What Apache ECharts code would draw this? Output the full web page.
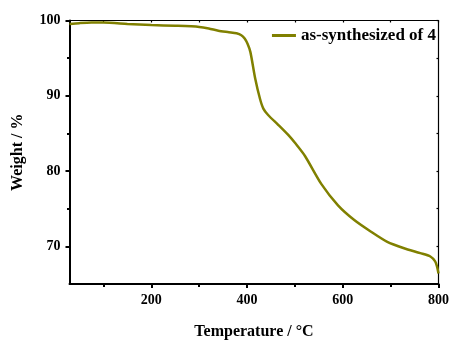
<!DOCTYPE html>
<html>
<head>
<meta charset="utf-8">
<script src="https://cdn.jsdelivr.net/npm/echarts@6/dist/echarts.min.js"></script>
<style>
html,body{margin:0;padding:0;background:#fff;}
#c{width:452px;height:345px;}
</style>
</head>
<body>
<div id="c"></div>
<script>
var seriesName = 'as-synthesized of 4';
var temperature = [29, 50, 75, 100, 150, 200, 250, 300, 320, 340, 362, 378, 388, 395, 401, 407, 417, 427, 434, 444, 465, 486, 500, 521, 555, 590, 624, 659, 693, 728, 762, 783, 793, 797, 800];
var weight = [99.55, 99.65, 99.72, 99.72, 99.55, 99.4, 99.3, 99.15, 98.95, 98.65, 98.45, 98.3, 98.05, 97.6, 96.9, 95.8, 92.3, 89.6, 88.3, 87.45, 86.15, 84.8, 83.75, 82.0, 78.3, 75.45, 73.5, 71.95, 70.6, 69.75, 69.1, 68.65, 68.0, 67.3, 66.4];
var xMajor = [200, 400, 600, 800];
var xMinor = [100, 300, 500, 700];
var yMajor = [70, 80, 90, 100];
var yMinor = [75, 85, 95];
var xRange = [29, 800];
var yRange = [65, 100];

var data = temperature.map(function (t, i) { return [t, weight[i]]; });
var font = 'Liberation Serif';
var chart = echarts.init(document.getElementById('c'), null, {renderer: 'canvas'});

function xAx(pos, ticks, len, inside, showLine, lw, labels, extra) {
  var o = {
    type: 'value', position: pos, min: xRange[0], max: xRange[1],
    splitLine: {show: false},
    axisLine: {show: showLine, onZero: false, lineStyle: {color: '#000', width: lw}},
    axisTick: {show: true, inside: inside, length: len, customValues: ticks, lineStyle: {color: '#000', width: lw}},
    axisLabel: labels ? {show: true, customValues: ticks, margin: 9, color: '#000', fontFamily: font, fontWeight: 'bold', fontSize: 14} : {show: false}
  };
  if (extra) for (var k in extra) o[k] = extra[k];
  return o;
}
function yAx(pos, ticks, len, inside, showLine, lw, labels, extra) {
  var o = {
    type: 'value', position: pos, min: yRange[0], max: yRange[1],
    splitLine: {show: false},
    axisLine: {show: showLine, onZero: false, lineStyle: {color: '#000', width: lw}},
    axisTick: {show: true, inside: inside, length: len, customValues: ticks, lineStyle: {color: '#000', width: lw}},
    axisLabel: labels ? {show: true, customValues: ticks, margin: 9, color: '#000', fontFamily: font, fontWeight: 'bold', fontSize: 14} : {show: false}
  };
  if (extra) for (var k in extra) o[k] = extra[k];
  return o;
}

var option = {
  animation: false,
  backgroundColor: '#fff',
  grid: {left: 69.5, right: 10.5, top: 20.5, bottom: 57.5, containLabel: false},
  legend: {
    show: true, right: 11, top: 22, itemWidth: 24, itemHeight: 3, icon: 'rect',
    data: [seriesName],
    itemStyle: {color: '#808000'},
    textStyle: {color: '#000', fontFamily: font, fontWeight: 'bold', fontSize: 17}
  },
  xAxis: [
    xAx('bottom', xMajor, 4, false, true, 2, true, {
      name: 'Temperature / °C', nameLocation: 'middle', nameGap: 40,
      nameTextStyle: {color: '#000', fontFamily: font, fontWeight: 'bold', fontSize: 16}
    }),
    xAx('bottom', xMinor, 3, false, false, 2, false),
    xAx('top', xMajor.concat(xMinor), 2, true, true, 1.2, false)
  ],
  yAxis: [
    yAx('left', yMajor, 4, false, true, 2, true, {
      name: 'Weight / %', nameLocation: 'middle', nameGap: 44,
      nameTextStyle: {color: '#000', fontFamily: font, fontWeight: 'bold', fontSize: 16}
    }),
    yAx('left', yMinor, 2.5, false, false, 2, false),
    yAx('right', yMajor.concat(yMinor), 2, true, true, 1.2, false)
  ],
  series: [{
    name: seriesName, type: 'line', data: data,
    xAxisIndex: 0, yAxisIndex: 0,
    symbol: 'none', smooth: 0.25,
    lineStyle: {color: '#808000', width: 2.5},
    itemStyle: {color: '#808000'}
  }]
};
chart.setOption(option);
</script>
</body>
</html>
